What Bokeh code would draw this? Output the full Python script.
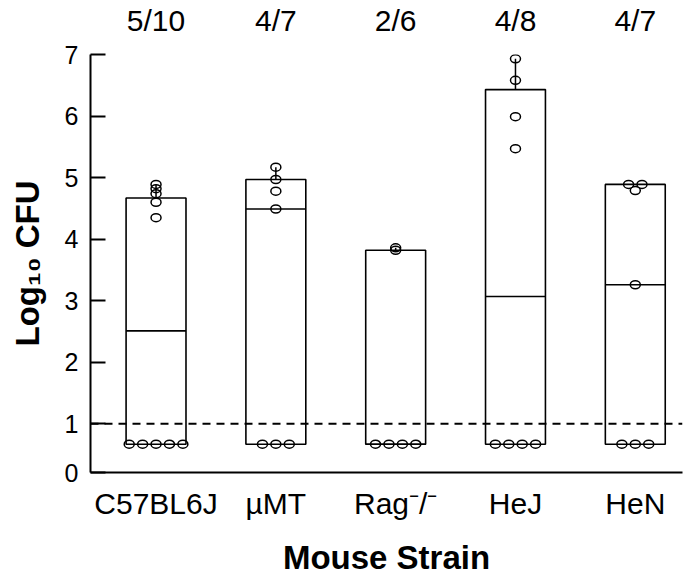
import numpy as np
from bokeh.plotting import figure
from bokeh.models import Range1d, FixedTicker, Span, LinearAxis
from bokeh.embed import file_html
from bokeh.resources import INLINE

# ---- data (log10 CFU per mouse; 0.67 = below detection) ----
strains = ["C57BL6J", "µMT", "Rag⁻/⁻", "HeJ", "HeN"]
counts = ["5/10", "4/7", "2/6", "4/8", "4/7"]
c57bl6j = [0.67, 0.67, 0.67, 0.67, 0.67, 4.89, 4.82, 4.74, 4.60, 4.35]
mumt = [0.67, 0.67, 0.67, 5.17, 4.97, 4.78, 4.49]
rag = [0.67, 0.67, 0.67, 0.67, 3.86, 3.82]
hej = [0.67, 0.67, 0.67, 0.67, 6.93, 6.58, 5.99, 5.47]
hen = [0.67, 0.67, 0.67, 4.89, 4.89, 4.79, 3.26]
box_upper = [4.67, 4.97, 3.82, 6.43, 4.89]
detection_limit = 1.0
y_ticks = [1, 2, 3, 4, 5, 6, 7]
y_bottom = 0.21

groups = [c57bl6j, mumt, rag, hej, hen]
FONT = "Liberation Sans"

p = figure(width=692, height=579, output_backend="svg", toolbar_location=None,
           x_range=Range1d(-0.547, 4.394), y_range=Range1d(y_bottom, 7.0),
           min_border_left=90, min_border_right=10, min_border_top=54, min_border_bottom=107)
p.outline_line_color = None
p.xgrid.visible = False
p.ygrid.visible = False
p.background_fill_color = "white"

xi = np.arange(len(groups))
mins = [min(g) for g in groups]
maxs = [max(g) for g in groups]
meds = [float(np.median(g)) for g in groups]
hw = 0.25

p.quad(left=xi - hw, right=xi + hw, bottom=mins, top=box_upper,
       fill_color=None, line_color="black", line_width=1.6)
p.segment(x0=xi - hw, x1=xi + hw, y0=meds, y1=meds, line_color="black", line_width=1.6)
p.segment(x0=xi, x1=xi, y0=box_upper, y1=maxs, line_color="black", line_width=1.5)

px, py = [], []
for i, vals in enumerate(groups):
    bins = {}
    for v in vals:
        bins.setdefault(round(v, 2), []).append(v)
    for v, members in bins.items():
        m = len(members)
        for k in range(m):
            px.append(i + (k - (m - 1) / 2) * 0.112)
            py.append(v)
p.ellipse(x=px, y=py, width=10, height=8, width_units="screen", height_units="screen",
          fill_color=None, line_color="black", line_width=1.5)

p.add_layout(Span(location=detection_limit, dimension="width", line_color="black",
                  line_width=2, line_dash="8 6"))

# y axis
ya = p.yaxis[0]
ya.ticker = FixedTicker(ticks=[y_bottom] + y_ticks)
ya.major_label_overrides = {y_bottom: "0"}
ya.minor_tick_line_color = None
ya.major_tick_in = 15
ya.major_tick_out = 0
ya.major_tick_line_width = 2
ya.axis_line_width = 2
ya.major_label_text_font = FONT
ya.major_label_text_font_size = "25px"
ya.major_label_text_color = "black"
ya.major_label_standoff = 12
ya.axis_label = "Log₁₀ CFU"
ya.axis_label_text_font = FONT
ya.axis_label_text_font_style = "bold"
ya.axis_label_text_font_size = "33px"
ya.axis_label_text_color = "black"
ya.axis_label_standoff = 16

# x axis with strain names
xa = p.xaxis[0]
xa.ticker = FixedTicker(ticks=list(range(len(strains))))
xa.major_label_overrides = {i: s for i, s in enumerate(strains)}
xa.axis_line_width = 2
xa.major_tick_line_color = None
xa.minor_tick_line_color = None
xa.major_label_text_font = FONT
xa.major_label_text_font_size = "30px"
xa.major_label_text_color = "black"
xa.major_label_standoff = 8
xa.axis_label = "Mouse Strain"
xa.axis_label_text_font = FONT
xa.axis_label_text_font_style = "bold"
xa.axis_label_text_font_size = "33px"
xa.axis_label_text_color = "black"
xa.axis_label_standoff = 16

# counts above the boxes
top = LinearAxis(ticker=FixedTicker(ticks=list(range(len(counts)))),
                 major_label_overrides={i: c for i, c in enumerate(counts)})
top.axis_line_color = None
top.major_tick_line_color = None
top.minor_tick_line_color = None
top.major_label_text_font = FONT
top.major_label_text_font_size = "30px"
top.major_label_text_color = "black"
top.major_label_standoff = 12
p.add_layout(top, "above")

open("out.html", "w").write(file_html(p, INLINE))
